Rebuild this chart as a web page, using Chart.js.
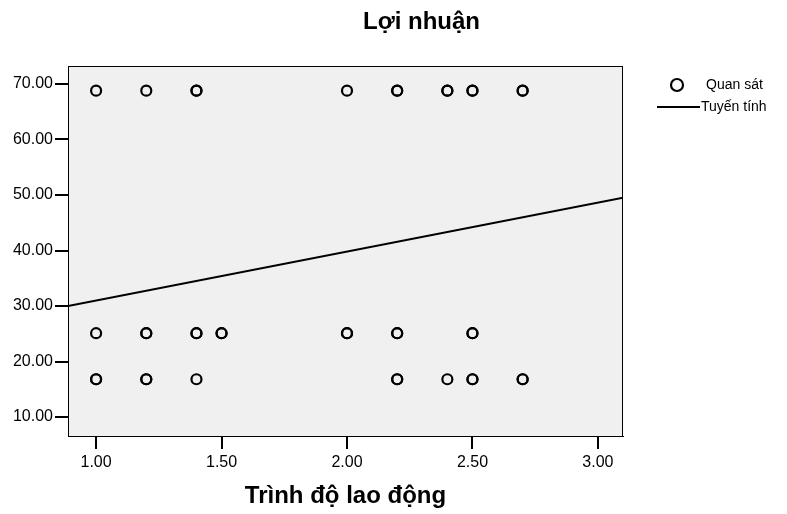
<!DOCTYPE html>
<html>
<head>
<meta charset="utf-8">
<script src="https://cdn.jsdelivr.net/npm/chart.js@4"></script>
<style>
  html, body { margin: 0; padding: 0; background: #fff; }
  #wrap { width: 787px; height: 514px; }
</style>
</head>
<body>
<div id="wrap"><canvas id="curveFitChart"></canvas></div>
<script>
const chartTitle = 'Lợi nhuận';
const xTitle = 'Trình độ lao động';
const xTicks = [1.0, 1.5, 2.0, 2.5, 3.0];
const yTicks = [10, 20, 30, 40, 50, 60, 70];

// observed points (repeated x where the circle is drawn twice)
const obsX = [1.0, 1.2, 1.4, 1.4, 2.0, 2.2, 2.2, 2.4, 2.4, 2.5, 2.5, 2.7, 2.7,
              1.0, 1.2, 1.2, 1.4, 1.4, 1.5, 1.5, 2.0, 2.0, 2.2, 2.2, 2.5, 2.5,
              1.0, 1.0, 1.2, 1.2, 1.4, 2.2, 2.2, 2.4, 2.5, 2.5, 2.7, 2.7];
const obsY = [68.8, 68.8, 68.8, 68.8, 68.8, 68.8, 68.8, 68.8, 68.8, 68.8, 68.8, 68.8, 68.8,
              25.1, 25.1, 25.1, 25.1, 25.1, 25.1, 25.1, 25.1, 25.1, 25.1, 25.1, 25.1, 25.1,
              16.8, 16.8, 16.8, 16.8, 16.8, 16.8, 16.8, 16.8, 16.8, 16.8, 16.8, 16.8];

// linear fit, ends at the frame edges
const fitX = [0.888, 3.100];
const fitY = [30.0, 49.5];

const font = "'Liberation Sans', Arial, sans-serif";

const frame = {
  id: 'frame',
  beforeDraw(chart) {
    const { ctx, chartArea: a } = chart;
    ctx.save();
    ctx.fillStyle = '#f0f0f0';
    ctx.fillRect(a.left, a.top, a.right - a.left, a.bottom - a.top);
    ctx.restore();
  },
  afterDraw(chart) {
    const { ctx, chartArea: a } = chart;
    ctx.save();
    ctx.strokeStyle = '#000';
    ctx.lineWidth = 1;
    ctx.strokeRect(a.left + 0.5, a.top + 0.5, a.right - a.left - 1, a.bottom - a.top);

    // title, centred between frame left and canvas right
    ctx.fillStyle = '#000';
    ctx.font = 'bold 24px ' + font;
    ctx.textAlign = 'center';
    ctx.textBaseline = 'middle';
    ctx.fillText(chartTitle, (a.left + chart.width) / 2 - 6, 22);

    // legend
    const lx = a.right;
    ctx.lineWidth = 2.2;
    ctx.beginPath();
    ctx.arc(lx + 54, 85, 6, 0, Math.PI * 2);
    ctx.stroke();
    ctx.lineWidth = 2;
    ctx.beginPath();
    ctx.moveTo(lx + 34, 107);
    ctx.lineTo(lx + 77, 107);
    ctx.stroke();
    ctx.font = '14px ' + font;
    ctx.textAlign = 'left';
    ctx.fillText(chart.data.datasets[0].label, lx + 83, 85);
    ctx.fillText(chart.data.datasets[1].label, lx + 78, 107);
    ctx.restore();
  }
};

new Chart(document.getElementById('curveFitChart'), {
  type: 'scatter',
  data: {
    datasets: [{
      label: 'Quan sát',
      data: obsX.map((x, i) => ({ x, y: obsY[i] })),
      pointStyle: 'circle',
      pointRadius: 5,
      pointBorderWidth: 2.2,
      borderColor: '#000',
      backgroundColor: 'rgba(0,0,0,0)',
      order: 1
    }, {
      label: 'Tuyến tính',
      type: 'line',
      data: fitX.map((x, i) => ({ x, y: fitY[i] })),
      borderColor: '#000',
      borderWidth: 2,
      pointRadius: 0,
      fill: false,
      order: 0
    }]
  },
  options: {
    responsive: true,
    maintainAspectRatio: false,
    animation: false,
    layout: { padding: { top: 66, right: 164, left: 0, bottom: 0 } },
    plugins: {
      legend: { display: false },
      tooltip: { enabled: false }
    },
    scales: {
      x: {
        type: 'linear',
        min: 0.888,
        max: 3.1,
        afterBuildTicks: (s) => { s.ticks = xTicks.map(v => ({ value: v })); },
        afterFit: (s) => { s.height = 78; },
        grid: { drawOnChartArea: false, drawTicks: true, tickLength: 13, color: '#000', lineWidth: 2 },
        border: { display: true, color: '#000', width: 1 },
        ticks: {
          color: '#000',
          padding: 4,
          maxRotation: 0,
          font: { family: font, size: 16 },
          callback: (v) => Number(v).toFixed(2)
        },
        title: {
          display: true,
          text: xTitle,
          color: '#000',
          font: { family: font, size: 24, weight: 'bold' },
          padding: { top: 0, bottom: 3 }
        }
      },
      y: {
        type: 'linear',
        min: 6.58,
        max: 73.24,
        afterBuildTicks: (s) => { s.ticks = yTicks.map(v => ({ value: v })); },
        afterFit: (s) => { s.width = 68; },
        grid: { drawOnChartArea: false, drawTicks: true, tickLength: 13, color: '#000', lineWidth: 2 },
        border: { display: true, color: '#000', width: 1 },
        ticks: {
          color: '#000',
          padding: 2,
          font: { family: font, size: 16 },
          callback: (v) => Number(v).toFixed(2)
        }
      }
    }
  },
  plugins: [frame]
});
</script>
</body>
</html>
